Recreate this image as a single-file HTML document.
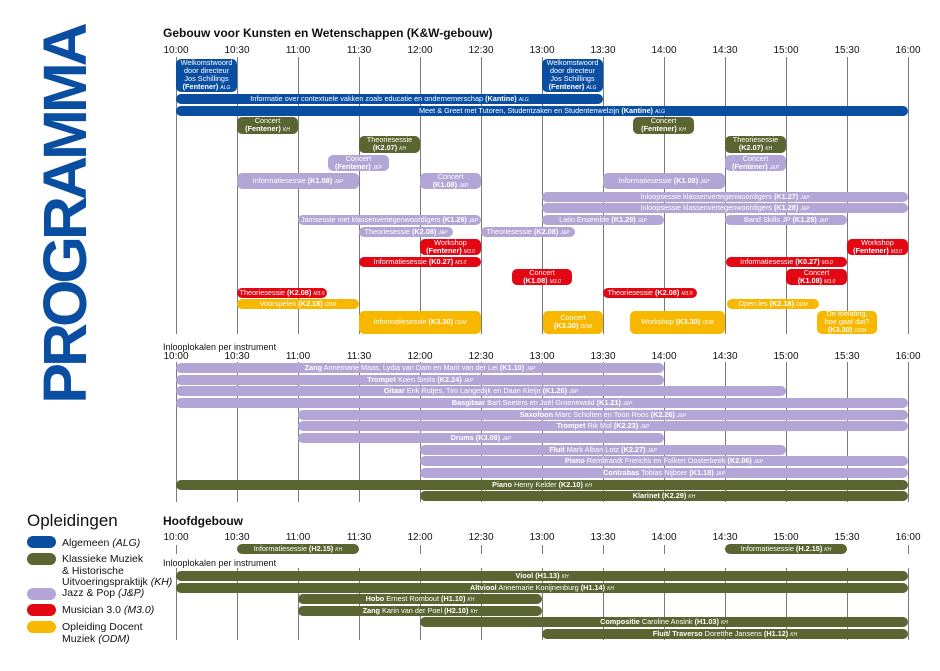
<!DOCTYPE html>
<html><head><meta charset="utf-8"><style>
body{margin:0;width:940px;height:671px;background:#fff;position:relative;overflow:hidden;font-family:"Liberation Sans",sans-serif;}
.a{position:absolute;}
.b{position:absolute;display:flex;align-items:center;justify-content:center;text-align:center;color:#fff;font-size:7.3px;line-height:8px;border-radius:5px;white-space:nowrap;overflow:hidden;}
.b>span{display:block;}
.b i{font-size:5px;}
.bl{background:#0a4ea2}.gr{background:#5b6532}.lv{background:#b3a6d6}.rd{background:#e30613}.ye{background:#f9b800}
.v{position:absolute;width:1px;background:#7a7a7a;}
.t{position:absolute;font-size:10px;width:40px;margin-left:-20px;text-align:center;color:#111;}
.lg{position:absolute;left:62px;font-size:10.5px;line-height:11.5px;color:#111;}
.sw{position:absolute;left:27px;width:29px;height:12px;border-radius:6px;}
</style></head><body>

<div class="a" style="left:-125px;top:175px;width:380px;height:80px;line-height:80px;text-align:center;transform:rotate(-90deg);font-size:61px;font-weight:bold;color:#0a4ea2;letter-spacing:-4px;">PROGRAMMA</div>

<div class="a" style="left:163px;top:26px;font-size:12px;font-weight:bold;color:#111">Gebouw voor Kunsten en Wetenschappen (K&amp;W-gebouw)</div>

<div class="v" style="left:176px;top:57px;height:277px"></div>
<div class="v" style="left:237px;top:57px;height:277px"></div>
<div class="v" style="left:298px;top:57px;height:277px"></div>
<div class="v" style="left:359px;top:57px;height:277px"></div>
<div class="v" style="left:420px;top:57px;height:277px"></div>
<div class="v" style="left:481px;top:57px;height:277px"></div>
<div class="v" style="left:542px;top:57px;height:277px"></div>
<div class="v" style="left:603px;top:57px;height:277px"></div>
<div class="v" style="left:664px;top:57px;height:277px"></div>
<div class="v" style="left:725px;top:57px;height:277px"></div>
<div class="v" style="left:786px;top:57px;height:277px"></div>
<div class="v" style="left:847px;top:57px;height:277px"></div>
<div class="v" style="left:908px;top:57px;height:277px"></div>
<div class="t" style="left:176px;top:45px">10:00</div><div class="t" style="left:237px;top:45px">10:30</div><div class="t" style="left:298px;top:45px">11:00</div><div class="t" style="left:359px;top:45px">11:30</div><div class="t" style="left:420px;top:45px">12:00</div><div class="t" style="left:481px;top:45px">12:30</div><div class="t" style="left:542px;top:45px">13:00</div><div class="t" style="left:603px;top:45px">13:30</div><div class="t" style="left:664px;top:45px">14:00</div><div class="t" style="left:725px;top:45px">14:30</div><div class="t" style="left:786px;top:45px">15:00</div><div class="t" style="left:847px;top:45px">15:30</div><div class="t" style="left:908px;top:45px">16:00</div>

<div class="b bl" style="left:176px;top:59px;width:61px;height:33px"><span>Welkomstwoord<br>door directeur<br>Jos Schillings<br><b>(Fentener)</b> <i>ALG</i></span></div>
<div class="b bl" style="left:542px;top:59px;width:61px;height:33px"><span>Welkomstwoord<br>door directeur<br>Jos Schillings<br><b>(Fentener)</b> <i>ALG</i></span></div>
<div class="b bl" style="left:176px;top:94px;width:427px;height:10px"><span>Informatie over contextuele vakken zoals educatie en ondernemerschap <b>(Kantine)</b> <i>ALG</i></span></div>
<div class="b bl" style="left:176px;top:106px;width:732px;height:10px"><span>Meet &amp; Greet met Tutoren, Studentzaken en Studentenwelzijn <b>(Kantine)</b> <i>ALG</i></span></div>
<div class="b gr" style="left:237px;top:117px;width:61px;height:17px"><span>Concert<br><b>(Fentener)</b> <i>KH</i></span></div>
<div class="b gr" style="left:633px;top:117px;width:61px;height:17px"><span>Concert<br><b>(Fentener)</b> <i>KH</i></span></div>
<div class="b gr" style="left:359px;top:136px;width:61px;height:17px"><span>Theoriesessie<br><b>(K2.07)</b> <i>KH</i></span></div>
<div class="b gr" style="left:725px;top:136px;width:61px;height:17px"><span>Theoriesessie<br><b>(K2.07)</b> <i>KH</i></span></div>
<div class="b lv" style="left:328px;top:155px;width:61px;height:16px"><span>Concert<br><b>(Fentener)</b> <i>J&amp;P</i></span></div>
<div class="b lv" style="left:725px;top:155px;width:61px;height:16px"><span>Concert<br><b>(Fentener)</b> <i>J&amp;P</i></span></div>
<div class="b lv" style="left:237px;top:173px;width:122px;height:16px"><span>Informatiesessie <b>(K1.08)</b> <i>J&amp;P</i></span></div>
<div class="b lv" style="left:420px;top:173px;width:61px;height:16px"><span>Concert<br><b>(K1.08)</b> <i>J&amp;P</i></span></div>
<div class="b lv" style="left:603px;top:173px;width:122px;height:16px"><span>Informatiesessie <b>(K1.08)</b> <i>J&amp;P</i></span></div>
<div class="b lv" style="left:542px;top:192px;width:366px;height:10px"><span>Inloopsessie klassenvertegenwoordigers <b>(K1.27)</b> <i>J&amp;P</i></span></div>
<div class="b lv" style="left:542px;top:203px;width:366px;height:10px"><span>Inloopsessie klassenvertegenwoordigers <b>(K1.28)</b> <i>J&amp;P</i></span></div>
<div class="b lv" style="left:298px;top:215px;width:183px;height:10px"><span>Jamsessie met klassenvertegenwoordigers <b>(K1.29)</b> <i>J&amp;P</i></span></div>
<div class="b lv" style="left:542px;top:215px;width:122px;height:10px"><span>Latin Ensemble <b>(K1.29)</b> <i>J&amp;P</i></span></div>
<div class="b lv" style="left:725px;top:215px;width:122px;height:10px"><span>Band Skills JP <b>(K1.29)</b> <i>J&amp;P</i></span></div>
<div class="b lv" style="left:359px;top:227px;width:94px;height:10px"><span>Theoriesessie <b>(K2.08)</b> <i>J&amp;P</i></span></div>
<div class="b lv" style="left:481px;top:227px;width:94px;height:10px"><span>Theoriesessie <b>(K2.08)</b> <i>J&amp;P</i></span></div>
<div class="b rd" style="left:420px;top:239px;width:61px;height:16px"><span>Workshop<br><b>(Fentener)</b> <i>M3.0</i></span></div>
<div class="b rd" style="left:847px;top:239px;width:61px;height:16px"><span>Workshop<br><b>(Fentener)</b> <i>M3.0</i></span></div>
<div class="b rd" style="left:359px;top:257px;width:122px;height:10px"><span>Informatiesessie <b>(K0.27)</b> <i>M3.0</i></span></div>
<div class="b rd" style="left:726px;top:257px;width:121px;height:10px"><span>Informatiesessie <b>(K0.27)</b> <i>M3.0</i></span></div>
<div class="b rd" style="left:512px;top:269px;width:60px;height:16px"><span>Concert<br><b>(K1.08)</b> <i>M3.0</i></span></div>
<div class="b rd" style="left:786px;top:269px;width:61px;height:16px"><span>Concert<br><b>(K1.08)</b> <i>M3.0</i></span></div>
<div class="b rd" style="left:237px;top:288px;width:90px;height:10px"><span>Theoriesessie <b>(K2.08)</b> <i>M3.0</i></span></div>
<div class="b rd" style="left:603px;top:288px;width:94px;height:10px"><span>Theoriesessie <b>(K2.08)</b> <i>M3.0</i></span></div>
<div class="b ye" style="left:237px;top:299px;width:122px;height:10px"><span>Voorspelen <b>(K2.18)</b> <i>ODM</i></span></div>
<div class="b ye" style="left:727px;top:299px;width:92px;height:10px"><span>Open les <b>(K2.18)</b> <i>ODM</i></span></div>
<div class="b ye" style="left:359px;top:311px;width:122px;height:23px"><span>Informatiesessie <b>(K3.30)</b> <i>ODM</i></span></div>
<div class="b ye" style="left:543px;top:311px;width:60px;height:23px"><span>Concert<br><b>(K3.30)</b> <i>ODM</i></span></div>
<div class="b ye" style="left:630px;top:311px;width:95px;height:23px"><span>Workshop <b>(K3.30)</b> <i>ODM</i></span></div>
<div class="b ye" style="left:817px;top:311px;width:60px;height:23px"><span>De toelating,<br>hoe gaat dat?<br><b>(K3.30)</b> <i>ODM</i></span></div>

<div class="a" style="left:163px;top:342px;font-size:9px;color:#111">Inlooplokalen per instrument</div>
<div class="v" style="left:176px;top:362px;height:140px"></div>
<div class="v" style="left:237px;top:362px;height:140px"></div>
<div class="v" style="left:298px;top:362px;height:140px"></div>
<div class="v" style="left:359px;top:362px;height:140px"></div>
<div class="v" style="left:420px;top:362px;height:140px"></div>
<div class="v" style="left:481px;top:362px;height:140px"></div>
<div class="v" style="left:542px;top:362px;height:140px"></div>
<div class="v" style="left:603px;top:362px;height:140px"></div>
<div class="v" style="left:664px;top:362px;height:140px"></div>
<div class="v" style="left:725px;top:362px;height:140px"></div>
<div class="v" style="left:786px;top:362px;height:140px"></div>
<div class="v" style="left:847px;top:362px;height:140px"></div>
<div class="v" style="left:908px;top:362px;height:140px"></div>
<div class="t" style="left:176px;top:351px">10:00</div><div class="t" style="left:237px;top:351px">10:30</div><div class="t" style="left:298px;top:351px">11:00</div><div class="t" style="left:359px;top:351px">11:30</div><div class="t" style="left:420px;top:351px">12:00</div><div class="t" style="left:481px;top:351px">12:30</div><div class="t" style="left:542px;top:351px">13:00</div><div class="t" style="left:603px;top:351px">13:30</div><div class="t" style="left:664px;top:351px">14:00</div><div class="t" style="left:725px;top:351px">14:30</div><div class="t" style="left:786px;top:351px">15:00</div><div class="t" style="left:847px;top:351px">15:30</div><div class="t" style="left:908px;top:351px">16:00</div>

<div class="b lv" style="left:176px;top:363px;width:488px;height:10px"><span><b>Zang</b> Annemarie Maas, Lydia van Dam en Marit van der Lei <b>(K1.10)</b> <i>J&amp;P</i></span></div>
<div class="b lv" style="left:176px;top:375px;width:488px;height:10px"><span><b>Trompet</b> Koen Smits <b>(K2.24)</b> <i>J&amp;P</i></span></div>
<div class="b lv" style="left:176px;top:386px;width:610px;height:10px"><span><b>Gitaar</b> Erik Rutjes, Tim Langedijk en Daan Kleijn <b>(K1.26)</b> <i>J&amp;P</i></span></div>
<div class="b lv" style="left:176px;top:398px;width:732px;height:10px"><span><b>Basgitaar</b> Bart Soeters en Joël Groenewold <b>(K1.21)</b> <i>J&amp;P</i></span></div>
<div class="b lv" style="left:298px;top:410px;width:610px;height:10px"><span><b>Saxofoon</b> Marc Scholten en Toon Roos <b>(K2.26)</b> <i>J&amp;P</i></span></div>
<div class="b lv" style="left:298px;top:421px;width:610px;height:10px"><span><b>Trompet</b> Rik Mol <b>(K2.23)</b> <i>J&amp;P</i></span></div>
<div class="b lv" style="left:298px;top:433px;width:366px;height:10px"><span><b>Drums (K3.08)</b> <i>J&amp;P</i></span></div>
<div class="b lv" style="left:420px;top:445px;width:366px;height:10px"><span><b>Fluit</b> Mark Alban Lotz <b>(K2.27)</b> <i>J&amp;P</i></span></div>
<div class="b lv" style="left:420px;top:456px;width:488px;height:10px"><span><b>Piano</b> Rembrandt Frerichs en Folkert Oosterbeek <b>(K2.06)</b> <i>J&amp;P</i></span></div>
<div class="b lv" style="left:420px;top:468px;width:488px;height:10px"><span><b>Contrabas</b> Tobias Nijboer <b>(K1.18)</b> <i>J&amp;P</i></span></div>
<div class="b gr" style="left:176px;top:480px;width:732px;height:10px"><span><b>Piano</b> Henry Kelder <b>(K2.10)</b> <i>KH</i></span></div>
<div class="b gr" style="left:420px;top:491px;width:488px;height:10px"><span><b>Klarinet (K2.29)</b> <i>KH</i></span></div>

<div class="a" style="left:27px;top:511px;font-size:17px;color:#111">Opleidingen</div>
<div class="sw bl" style="top:536px"></div>
<div class="sw gr" style="top:553px"></div>
<div class="sw lv" style="top:588px"></div>
<div class="sw rd" style="top:604px"></div>
<div class="sw ye" style="top:621px"></div>
<div class="lg" style="top:538px">Algemeen <i>(ALG)</i></div>
<div class="lg" style="top:554px">Klassieke Muziek<br>&amp; Historische<br>Uitvoeringspraktijk <i>(KH)</i></div>
<div class="lg" style="top:588px">Jazz &amp; Pop <i>(J&amp;P)</i></div>
<div class="lg" style="top:605px">Musician 3.0 <i>(M3.0)</i></div>
<div class="lg" style="top:622px">Opleiding Docent<br>Muziek <i>(ODM)</i></div>

<div class="a" style="left:163px;top:514px;font-size:12px;font-weight:bold;color:#111">Hoofdgebouw</div>
<div class="t" style="left:176px;top:532px">10:00</div><div class="t" style="left:237px;top:532px">10:30</div><div class="t" style="left:298px;top:532px">11:00</div><div class="t" style="left:359px;top:532px">11:30</div><div class="t" style="left:420px;top:532px">12:00</div><div class="t" style="left:481px;top:532px">12:30</div><div class="t" style="left:542px;top:532px">13:00</div><div class="t" style="left:603px;top:532px">13:30</div><div class="t" style="left:664px;top:532px">14:00</div><div class="t" style="left:725px;top:532px">14:30</div><div class="t" style="left:786px;top:532px">15:00</div><div class="t" style="left:847px;top:532px">15:30</div><div class="t" style="left:908px;top:532px">16:00</div>
<div class="v" style="left:176px;top:545px;height:9px"></div><div class="v" style="left:420px;top:545px;height:9px"></div><div class="v" style="left:481px;top:545px;height:9px"></div><div class="v" style="left:542px;top:545px;height:9px"></div><div class="v" style="left:603px;top:545px;height:9px"></div><div class="v" style="left:664px;top:545px;height:9px"></div><div class="v" style="left:908px;top:545px;height:9px"></div>
<div class="v" style="left:176px;top:568px;height:72px"></div>
<div class="v" style="left:237px;top:568px;height:72px"></div>
<div class="v" style="left:298px;top:568px;height:72px"></div>
<div class="v" style="left:359px;top:568px;height:72px"></div>
<div class="v" style="left:420px;top:568px;height:72px"></div>
<div class="v" style="left:481px;top:568px;height:72px"></div>
<div class="v" style="left:542px;top:568px;height:72px"></div>
<div class="v" style="left:603px;top:568px;height:72px"></div>
<div class="v" style="left:664px;top:568px;height:72px"></div>
<div class="v" style="left:725px;top:568px;height:72px"></div>
<div class="v" style="left:786px;top:568px;height:72px"></div>
<div class="v" style="left:847px;top:568px;height:72px"></div>
<div class="v" style="left:908px;top:568px;height:72px"></div>
<div class="b gr" style="left:237px;top:544px;width:122px;height:10px"><span>Informatiesessie <b>(H2.15)</b> <i>KH</i></span></div>
<div class="b gr" style="left:725px;top:544px;width:122px;height:10px"><span>Informatiesessie <b>(H.2.15)</b> <i>KH</i></span></div>
<div class="a" style="left:163px;top:558px;font-size:9px;color:#111">Inlooplokalen per instrument</div>
<div class="b gr" style="left:176px;top:571px;width:732px;height:10px"><span><b>Viool (H1.13)</b> <i>KH</i></span></div>
<div class="b gr" style="left:176px;top:583px;width:732px;height:10px"><span><b>Altviool</b> Annemarie Konijnenburg <b>(H1.14)</b> <i>KH</i></span></div>
<div class="b gr" style="left:298px;top:594px;width:244px;height:10px"><span><b>Hobo</b> Ernest Rombout <b>(H1.10)</b> <i>KH</i></span></div>
<div class="b gr" style="left:298px;top:606px;width:244px;height:10px"><span><b>Zang</b> Karin van der Poel <b>(H2.10)</b> <i>KH</i></span></div>
<div class="b gr" style="left:420px;top:617px;width:488px;height:10px"><span><b>Compositie</b> Caroline Ansink <b>(H1.03)</b> <i>KH</i></span></div>
<div class="b gr" style="left:542px;top:629px;width:366px;height:10px"><span><b>Fluit/ Traverso</b> Doretthe Jansens <b>(H1.12)</b> <i>KH</i></span></div>
</body></html>
